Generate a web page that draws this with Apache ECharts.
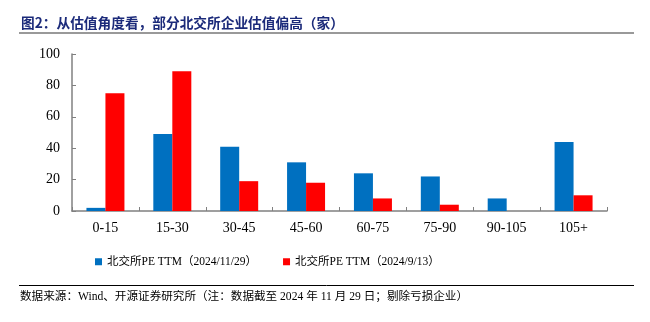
<!DOCTYPE html>
<html><head><meta charset="utf-8">
<script src="https://cdn.jsdelivr.net/npm/echarts@6/dist/echarts.min.js"></script>
<style>html,body{margin:0;padding:0;background:#fff}#c{width:650px;height:322px}</style>
</head><body><div id="c"></div>
<script>
var categories = ['0-15','15-30','30-45','45-60','60-75','75-90','90-105','105+'];
var seriesNames = ['北交所PE TTM（2024/11/29）','北交所PE TTM（2024/9/13）'];
var valuesNov = [2, 49, 41, 31, 24, 22, 8, 44];
var valuesSep = [75, 89, 19, 18, 8, 4, 0, 10];
var yTicks = [0, 20, 40, 60, 80, 100];
var titleText = '图2：从估值角度看，部分北交所企业估值偏高（家）';
var sourceText = '数据来源：Wind、开源证券研究所（注：数据截至 2024 年 11 月 29 日；剔除亏损企业）';

var serif = '"Liberation Serif","Noto Sans CJK SC",serif';
var chart = echarts.init(document.getElementById('c'), null, {renderer:'canvas'});
chart.setOption({
  animation:false,
  backgroundColor:'#fff',
  title:{text:titleText,left:16,top:11,textStyle:{fontFamily:'"Noto Sans CJK SC",sans-serif',fontSize:13.7,fontWeight:'bold',color:'#1B2A7A'}},
  graphic:[
    {type:'line',shape:{x1:19,y1:33,x2:634,y2:33},style:{stroke:'#999',lineWidth:2}},
    {type:'line',shape:{x1:19,y1:285.5,x2:634,y2:285.5},style:{stroke:'#000',lineWidth:1}},
    {type:'text',left:20,top:291,style:{text:sourceText,fontFamily:serif,fontSize:11.6,fill:'#000'}}
  ],
  legend:{top:251,left:90,itemWidth:7,itemHeight:7,itemGap:26,icon:'rect',
    textStyle:{fontFamily:serif,fontSize:11.5,color:'#000'},data:seriesNames},
  grid:{left:72,right:43,top:54,bottom:111},
  xAxis:{type:'category',data:categories,
    axisLine:{lineStyle:{color:'#808080',width:1.5}},
    axisTick:{show:true,inside:true,length:4,lineStyle:{color:'#808080'}},
    axisLabel:{fontFamily:serif,fontSize:14,color:'#000',margin:10}},
  yAxis:{type:'value',min:yTicks[0],max:yTicks[yTicks.length-1],interval:20,
    splitLine:{show:false},
    axisLine:{show:true,lineStyle:{color:'#808080',width:1.5}},
    axisTick:{show:true,inside:true,length:4,lineStyle:{color:'#808080'}},
    axisLabel:{fontFamily:serif,fontSize:14,color:'#000',margin:12}},
  series:[
    {name:seriesNames[0],type:'bar',data:valuesNov,barWidth:19,barGap:'0%',itemStyle:{color:'#0070C0'}},
    {name:seriesNames[1],type:'bar',data:valuesSep,barWidth:19,barGap:'0%',itemStyle:{color:'#FF0000'}}
  ]
});
</script></body></html>
